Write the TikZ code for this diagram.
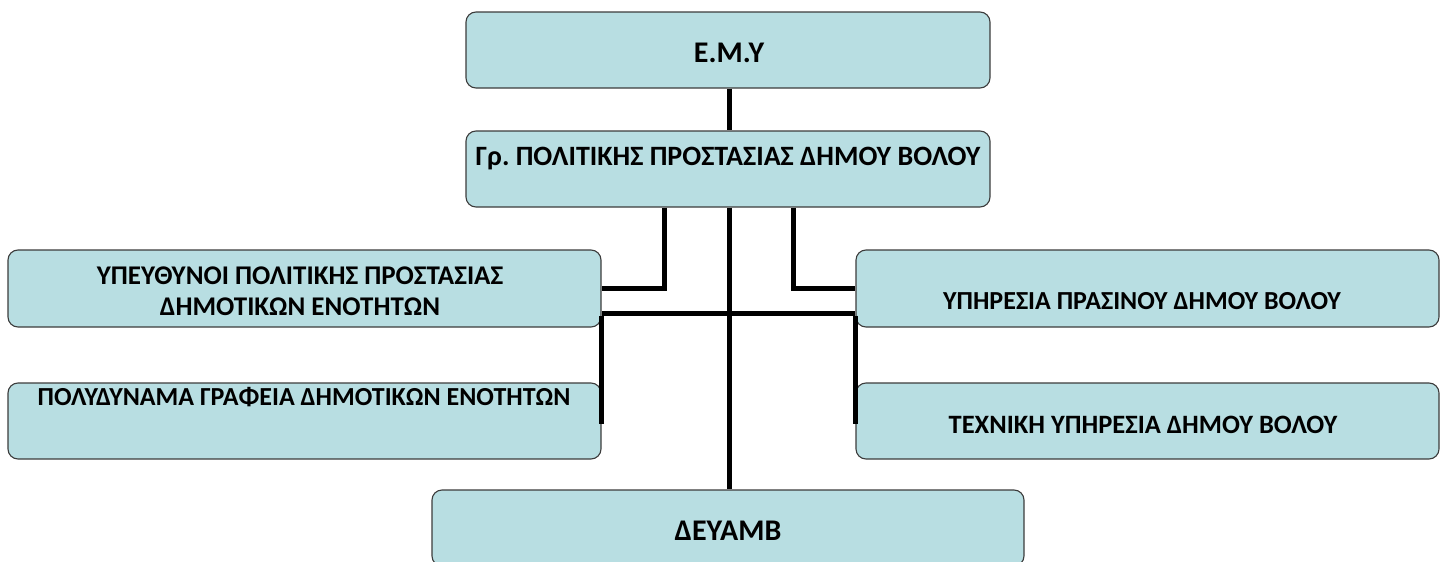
\documentclass[tikz,border=0pt]{standalone}
\usepackage{fontspec}
\setmainfont{Carlito}
\frenchspacing
\definecolor{boxfill}{HTML}{B8DEE2}
\definecolor{boxline}{HTML}{3C3C3C}
\begin{document}
\begin{tikzpicture}[x=1pt,y=-1pt,
  box/.style={draw=boxline, line width=1.1pt, fill=boxfill, rounded corners=10pt, inner sep=0pt},
  lbl/.style={inner sep=0pt, font=\fontsize{26}{31}\selectfont\bfseries, align=center},
  conn/.style={line width=5pt, line cap=butt, line join=miter}]
\useasboundingbox (0,0) rectangle (1441,562);
% boxes
\node[box, minimum width=524pt, minimum height=76pt] (emy) at (728,50) {};
\node[box, minimum width=524pt, minimum height=76pt] (gr) at (728,169) {};
\node[box, minimum width=593pt, minimum height=77pt] (ypeu) at (304.5,288.5) {};
\node[box, minimum width=593pt, minimum height=76pt] (poly) at (304.5,421) {};
\node[box, minimum width=583pt, minimum height=77pt] (pras) at (1147.5,288.5) {};
\node[box, minimum width=583pt, minimum height=76pt] (texn) at (1147.5,421) {};
\node[box, minimum width=592pt, minimum height=76pt] (deya) at (728,528) {};
% labels
\node[lbl, font=\fontsize{30}{31}\selectfont\bfseries] (temy) at (729,53) {Ε.Μ.Υ};
\node[lbl, font=\fontsize{28}{31}\selectfont\bfseries] (tgr) at (728,159) {Γρ. ΠΟΛΙΤΙΚΗΣ ΠΡΟΣΤΑΣΙΑΣ ΔΗΜΟΥ ΒΟΛΟΥ};
\node[lbl, font=\fontsize{27}{31}\selectfont\bfseries] (typeu) at (300,291) {ΥΠΕΥΘΥΝΟΙ ΠΟΛΙΤΙΚΗΣ ΠΡΟΣΤΑΣΙΑΣ\\ΔΗΜΟΤΙΚΩΝ ΕΝΟΤΗΤΩΝ};
\node[lbl] (tpoly) at (304,397) {ΠΟΛΥΔΥΝΑΜΑ ΓΡΑΦΕΙΑ ΔΗΜΟΤΙΚΩΝ ΕΝΟΤΗΤΩΝ};
\node[lbl] (tpras) at (1142,301) {ΥΠΗΡΕΣΙΑ ΠΡΑΣΙΝΟΥ ΔΗΜΟΥ ΒΟΛΟΥ};
\node[lbl, font=\fontsize{26.5}{31}\selectfont\bfseries] (ttexn) at (1143,425) {ΤΕΧΝΙΚΗ ΥΠΗΡΕΣΙΑ ΔΗΜΟΥ ΒΟΛΟΥ};
\node[lbl, font=\fontsize{30}{31}\selectfont\bfseries] (tdeya) at (728,531) {ΔΕΥΑΜΒ};
% connectors
\coordinate (bus) at (729,313);
\draw[conn] ([xshift=1pt]emy.south) -- ([xshift=1pt]gr.north);
\draw[conn] ([xshift=1pt]gr.south) -- ([xshift=1pt]deya.north);
\draw[conn] ([xshift=-64pt]gr.south) |- (ypeu.east);
\draw[conn] ([xshift=65pt]gr.south) |- (pras.west);
\draw[conn] (ypeu.east |- bus) -- (pras.west |- bus);
\draw[conn] ([yshift=-2.5pt]ypeu.east |- bus) -- ([yshift=-3pt]poly.east);
\draw[conn] ([yshift=-2.5pt]pras.west |- bus) -- ([yshift=-3pt]texn.west);
\end{tikzpicture}
\end{document}
